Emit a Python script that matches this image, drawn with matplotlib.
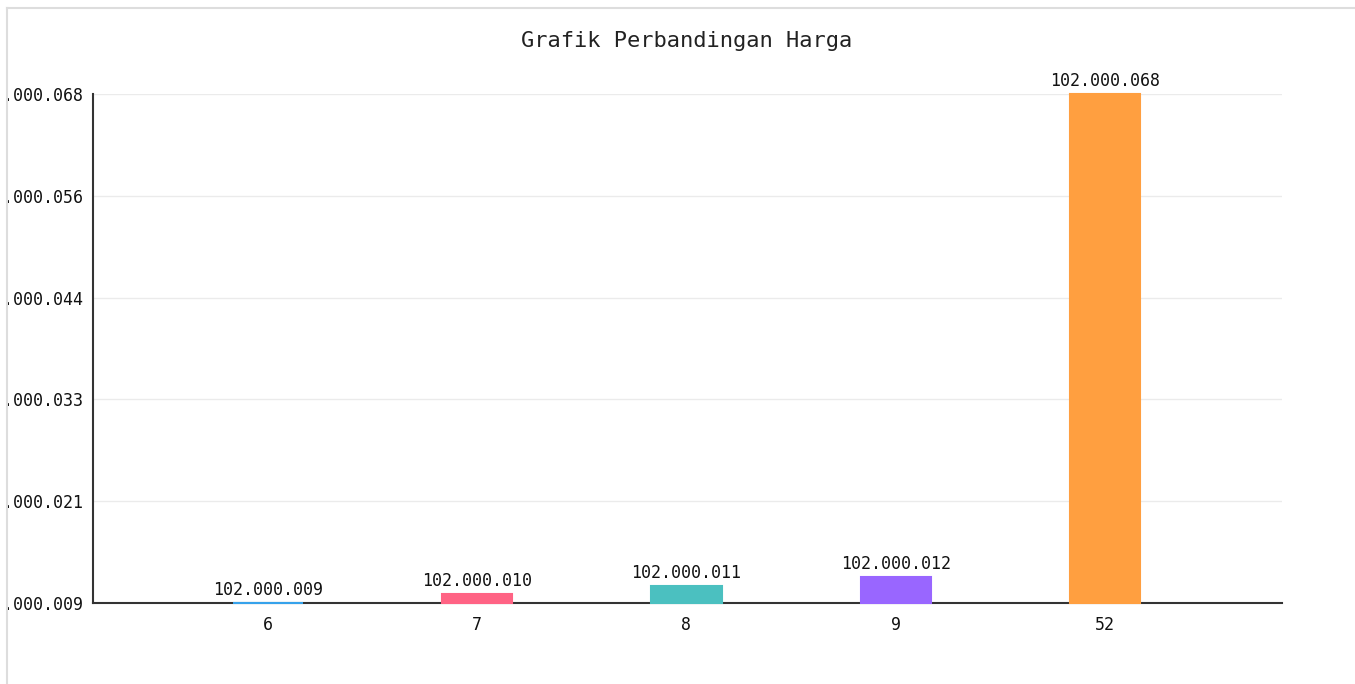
import matplotlib
matplotlib.use("Agg")
import matplotlib.pyplot as plt
from matplotlib.patches import Rectangle
from matplotlib.lines import Line2D
import numpy as np

# data grafik
kategori = ['6', '7', '8', '9', '52']
harga = [102000009, 102000010, 102000011, 102000012, 102000068]
warna = ['#36A2EB', '#FF6384', '#4BC0C0', '#9966FF', '#FF9F40']
judul = 'Grafik Perbandingan Harga'


def format_titik(v):
    # angka dengan titik sebagai pemisah ribuan
    return f"{int(round(v)):,}".replace(',', '.')


plt.rcParams['font.family'] = ['DejaVu Sans Mono', 'DejaVu Sans']

fig = plt.figure(figsize=(13.55, 6.84), dpi=100)
ax = fig.add_axes([93 / 1355, 1 - 603 / 684, (1282 - 93) / 1355, (603 - 94) / 684])

ymin, ymax = min(harga), max(harga)
x = np.arange(len(kategori))
tinggi = [h - ymin for h in harga]
bars = ax.bar(x, tinggi, bottom=ymin, width=0.335, color=warna,
              edgecolor=warna, linewidth=1.5, zorder=6, clip_on=False)

for xi, h in zip(x, harga):
    ax.annotate(format_titik(h), (xi, h), xytext=(0, 3), textcoords='offset points',
                ha='center', va='bottom', fontsize=12, color='#111111', zorder=7)

ax.set_ylim(ymin, ymax)
ax.set_xlim(-0.836, 4.846)
ticks = np.linspace(ymin, ymax, 6)
ax.set_yticks(ticks)
ax.set_yticklabels([format_titik(t) for t in ticks])
ax.set_xticks(x)
ax.set_xticklabels(kategori)
ax.tick_params(axis='y', length=0, pad=7, labelsize=12, labelcolor='#111111')
ax.tick_params(axis='x', length=0, pad=9, labelsize=12, labelcolor='#111111')
ax.grid(axis='y', color='#ebebeb', linewidth=1, zorder=0)
ax.set_axisbelow(True)

for s in ['top', 'right']:
    ax.spines[s].set_visible(False)
for s in ['left', 'bottom']:
    ax.spines[s].set_color('#333333')
    ax.spines[s].set_linewidth(1.5)
    ax.spines[s].set_zorder(5)

fig.text(687 / 1355, 1 - 41 / 684, judul, ha='center', va='center',
         fontsize=15.8, color='#222222')

# bingkai kontainer (label sumbu y terpotong di kiri seperti aslinya)
fig.add_artist(Rectangle((0, 0), 7 / 1355, 1, transform=fig.transFigure,
                         facecolor='white', edgecolor='none', zorder=10))
fig.add_artist(Rectangle((0, 1 - 7 / 684), 1, 7 / 684, transform=fig.transFigure,
                         facecolor='white', edgecolor='none', zorder=10))
fig.add_artist(Line2D([7.5 / 1355, 7.5 / 1355], [0, 1 - 7.5 / 684], transform=fig.transFigure,
                      color='#dddddd', linewidth=1.5, zorder=11))
fig.add_artist(Line2D([7.5 / 1355, 1], [1 - 7.5 / 684, 1 - 7.5 / 684], transform=fig.transFigure,
                      color='#dddddd', linewidth=1.5, zorder=11))

fig.savefig('out.png', dpi=100, facecolor='white')
